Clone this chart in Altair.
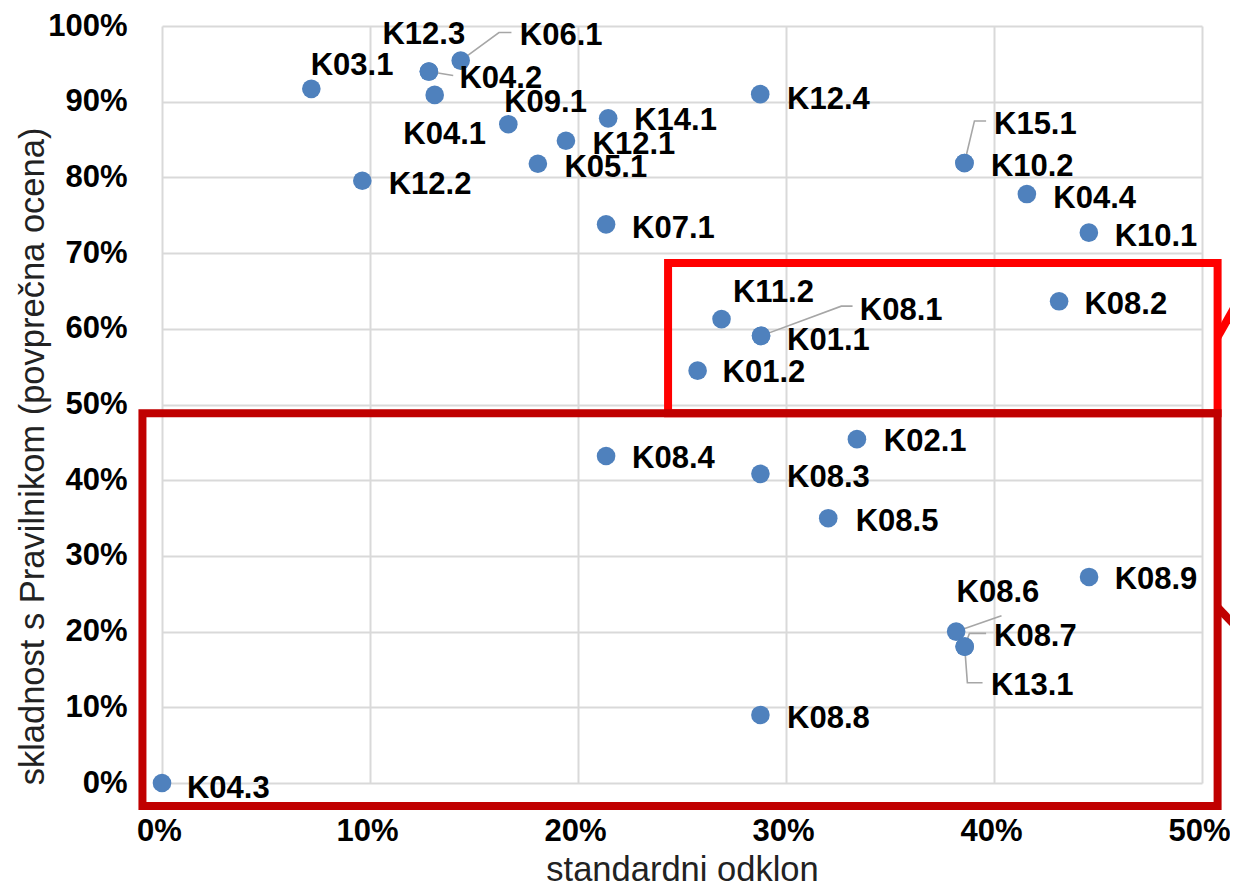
import altair as alt
import numpy as np
import pandas as pd

# ---- data (percent units) ----
labels = ["K04.3", "K03.1", "K12.2", "K12.3", "K04.2", "K06.1", "K04.1", "K09.1",
          "K12.1", "K05.1", "K14.1", "K12.4", "K15.1", "K10.2", "K04.4", "K10.1",
          "K07.1", "K11.2", "K08.1", "K01.1", "K01.2", "K08.2", "K02.1", "K08.4",
          "K08.3", "K08.5", "K08.9", "K08.6", "K08.7", "K13.1", "K08.8"]
std_dev = [0.0, 7.18, 9.63, 12.83, 12.83, 14.36, 13.11, 16.65,
           19.42, 18.07, 21.45, 28.76, 38.58, 38.58, 41.58, 44.56,
           21.35, 26.9, 28.8, 28.8, 25.75, 43.13, 33.41, 21.35,
           28.77, 32.03, 44.57, 38.18, 38.59, 38.59, 28.77]
compliance = [0.0, 91.7, 79.56, 93.98, 93.98, 95.43, 90.9, 87.03,
              84.84, 81.8, 87.8, 91.0, 81.9, 81.9, 77.8, 72.7,
              73.8, 61.28, 59.07, 59.07, 54.47, 63.63, 45.42, 43.2,
              40.84, 34.98, 27.22, 20.0, 18.02, 18.02, 8.99]
# label anchor (left edge, vertical centre), in data units
label_x = [1.2, 7.15, 10.9, 10.6, 14.3, 17.2, 11.6, 16.45,
           20.7, 19.35, 22.7, 30.05, 40.0, 39.85, 42.85, 45.8,
           22.6, 27.45, 33.55, 30.05, 26.95, 44.35, 34.7, 22.6,
           30.05, 33.35, 45.8, 38.2, 40.0, 39.85, 30.05]
label_y = [-0.5, 95.0, 79.3, 99.1, 93.3, 98.9, 85.9, 90.05,
           84.6, 81.5, 87.7, 90.5, 87.15, 81.6, 77.4, 72.4,
           73.5, 65.0, 62.55, 58.6, 54.4, 63.35, 45.3, 43.05,
           40.55, 34.75, 27.05, 25.4, 19.6, 13.05, 8.75]

# leader lines (polylines from point to moved label)
leader_id = ["K06.1", "K06.1", "K06.1", "K04.2", "K04.2",
             "K15.1", "K15.1", "K15.1", "K08.1", "K08.1", "K08.1",
             "K08.6", "K08.6", "K08.7", "K08.7", "K08.7", "K13.1", "K13.1", "K13.1"]
leader_ord = [0, 1, 2, 0, 1, 0, 1, 2, 0, 1, 2, 0, 1, 0, 1, 2, 0, 1, 2]
leader_x = [14.36, 16.2, 16.8, 12.83, 14.0,
            38.58, 39.06, 39.62, 28.8, 32.66, 33.2,
            38.18, 40.36, 38.59, 38.82, 39.62, 38.59, 38.72, 39.45]
leader_y = [95.43, 99.14, 99.14, 93.98, 93.45,
            81.9, 87.46, 87.46, 59.07, 62.99, 62.99,
            20.0, 22.09, 18.02, 19.77, 19.77, 18.02, 13.24, 13.24]

# highlight boxes and arrow stubs
box_name = ["outer", "inner"]
box_x1 = [-0.94, 24.33]
box_x2 = [50.75, 50.75]
box_y1 = [-3.04, 48.86]
box_y2 = [48.86, 68.7]
box_color = ["#c00000", "#ff0000"]

arrow_x1 = [50.75, 50.75]
arrow_y1 = [58.9, 23.2]
arrow_x2 = [51.9, 51.9]
arrow_y2 = [64.5, 19.9]
arrow_color = ["#ff0000", "#c00000"]

x_ticks = [0, 10, 20, 30, 40, 50]
y_ticks = [0, 10, 20, 30, 40, 50, 60, 70, 80, 90, 100]

# ---- tables ----
pts = pd.DataFrame({
    "label": labels,
    "x": np.array(std_dev) / 100,
    "y": np.array(compliance) / 100,
    "lx": np.array(label_x) / 100,
    "ly": np.array(label_y) / 100,
})
lead = pd.DataFrame({
    "id": leader_id, "ord": leader_ord,
    "x": np.array(leader_x) / 100, "y": np.array(leader_y) / 100,
})
boxes = pd.DataFrame({
    "name": box_name,
    "x": np.array(box_x1) / 100, "x2": np.array(box_x2) / 100,
    "y": np.array(box_y1) / 100, "y2": np.array(box_y2) / 100,
    "c": box_color,
})
arrows = pd.DataFrame({
    "x": np.array(arrow_x1) / 100, "x2": np.array(arrow_x2) / 100,
    "y": np.array(arrow_y1) / 100, "y2": np.array(arrow_y2) / 100,
    "c": arrow_color,
})

FONT = "Liberation Sans"
xs = alt.Scale(domain=[0, 0.5], nice=False, zero=False)
ys = alt.Scale(domain=[0, 1], nice=False, zero=False)

xaxis = alt.Axis(
    title="standardni odklon", format=".0%", values=[v / 100 for v in x_ticks],
    grid=True, gridColor="#d9d9d9", gridWidth=2, domain=False, ticks=False,
    labelFont=FONT, labelFontWeight="bold", labelFontSize=31, labelColor="#000000",
    labelPadding=33, labelFlush=False, labelOffset=-3,
    titleFont=FONT, titleFontSize=34.5, titleFontWeight="normal", titleColor="#222222",
    titleX=520, titleY=97, titleAlign="center", titleBaseline="alphabetic",
)
yaxis = alt.Axis(
    title="skladnost s Pravilnikom (povprečna ocena)", format=".0%",
    values=[v / 100 for v in y_ticks],
    grid=True, gridColor="#d9d9d9", gridWidth=2, domain=False, ticks=False,
    labelFont=FONT, labelFontWeight="bold", labelFontSize=31, labelColor="#000000",
    labelPadding=35, labelFlush=False,
    titleFont=FONT, titleFontSize=34.5, titleFontWeight="normal", titleColor="#222222",
    titleAngle=270, titleX=-119, titleY=430, titleAlign="center", titleBaseline="alphabetic",
)


def X(f):
    return alt.X(f, type="quantitative", scale=xs, axis=xaxis)


def Y(f):
    return alt.Y(f, type="quantitative", scale=ys, axis=yaxis)


points = alt.Chart(pts).mark_circle(size=346, opacity=1, color="#4f81bd").encode(
    x=X("x"), y=Y("y"))

leaders = alt.Chart(lead).mark_line(color="#a6a6a6", strokeWidth=1.6).encode(
    x=X("x"), y=Y("y"), detail="id:N", order="ord:Q")

texts = alt.Chart(pts).mark_text(
    align="left", baseline="middle", dy=2, font=FONT, fontWeight="bold",
    fontSize=31, color="#000000").encode(
    x=X("lx"), y=Y("ly"), text="label:N")

rects = alt.Chart(boxes).mark_rect(filled=False, strokeWidth=8, clip=False).encode(
    x=X("x"), x2="x2", y=Y("y"), y2="y2",
    stroke=alt.Stroke("c:N", scale=None), order="name:N")

arrow_lines = alt.Chart(arrows).mark_rule(strokeWidth=8, clip=False).encode(
    x=X("x"), x2="x2", y=Y("y"), y2="y2",
    color=alt.Color("c:N", scale=None))

chart = alt.layer(leaders, points, texts, rects, arrow_lines).properties(
    width=1040, height=757,
    autosize=alt.AutoSizeParams(type="none"),
    padding={"left": 154, "top": 18, "right": 28, "bottom": 101},
    background="white",
).configure_view(stroke=None)

chart.save("out.html", embed_options={"renderer": "svg", "actions": False})
